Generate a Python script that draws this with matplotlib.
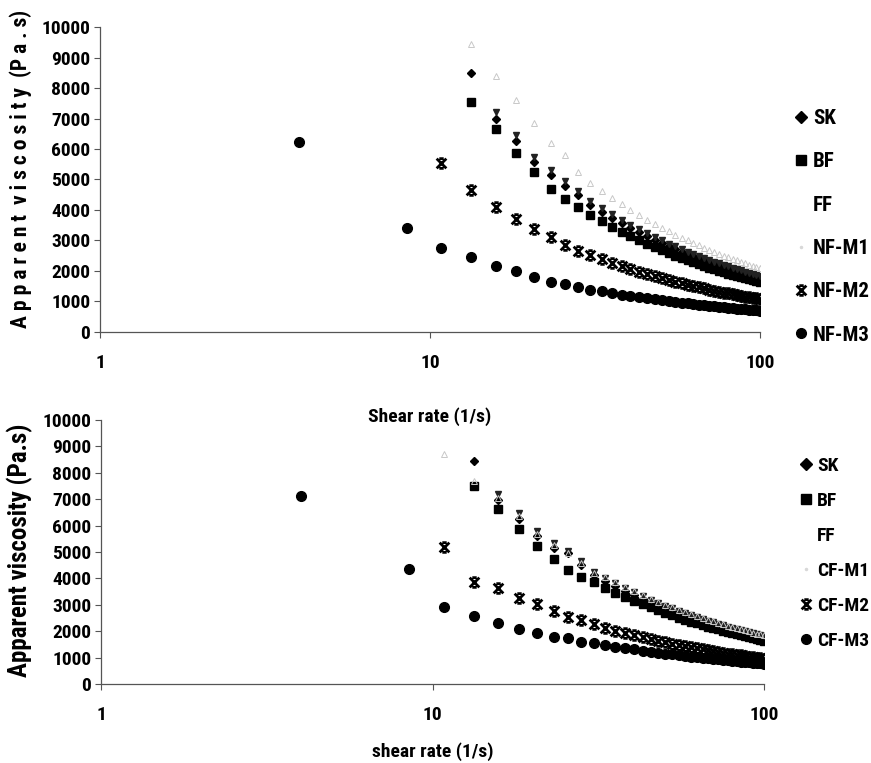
import numpy as np
import matplotlib
matplotlib.use('Agg')
import matplotlib.pyplot as plt
from matplotlib import font_manager as fm
from matplotlib.lines import Line2D
from matplotlib.path import Path
from matplotlib.ticker import FixedLocator, NullLocator, FixedFormatter

nan = np.nan

# shear rate grid (1/s)
rate = [4.0, 8.5, 10.8, 13.3, 15.8, 18.2, 20.7, 23.2, 25.7, 28.1, 30.6,
        33.1, 35.6, 38.1, 40.5, 43.0, 45.5, 48.0, 50.4, 52.9, 55.4, 57.9,
        60.4, 62.8, 65.3, 67.8, 70.3, 72.7, 75.2, 77.7, 80.2, 82.7, 85.1,
        87.6, 90.1, 92.6, 95.0, 97.5, 100.0]

# ---- top panel (NF) apparent viscosity, Pa.s ----
top_sk = [nan, nan, nan, 8500, 7000, 6270, 5580, 5140, 4800, 4480, 4170,
          3942, 3740, 3562, 3409, 3265, 3135, 3017, 2912, 2812, 2720, 2635,
          2556, 2485, 2416, 2352, 2291, 2237, 2183, 2133, 2085, 2039, 1997,
          1956, 1917, 1879, 1845, 1811, 1778]
top_bf = [nan, nan, nan, 7530, 6666, 5858, 5236, 4689, 4361, 4108, 3836,
          3625, 3440, 3276, 3135, 3003, 2883, 2774, 2678, 2587, 2502, 2424,
          2351, 2286, 2223, 2163, 2108, 2057, 2008, 1961, 1917, 1875, 1837,
          1799, 1763, 1728, 1697, 1666, 1635]
top_ff = [nan, nan, nan, nan, 7224, 6459, 5749, 5300, 4950, 4620, 4300,
          4064, 3856, 3672, 3514, 3366, 3232, 3110, 3002, 2899, 2804, 2717,
          2635, 2562, 2491, 2425, 2362, 2306, 2251, 2199, 2149, 2102, 2059,
          2016, 1976, 1937, 1902, 1867, 1833]
top_m1 = [nan, nan, nan, 9440, 8400, 7600, 6840, 6200, 5800, 5260, 4900,
          4631, 4394, 4185, 4005, 3836, 3683, 3544, 3421, 3304, 3196, 3096,
          3003, 2920, 2839, 2763, 2692, 2628, 2565, 2505, 2449, 2395, 2346,
          2298, 2252, 2207, 2167, 2128, 2088]
top_m2 = [nan, nan, 5530, 4656, 4110, 3694, 3377, 3104, 2842, 2656, 2530,
          2391, 2269, 2161, 2068, 1981, 1902, 1830, 1766, 1706, 1650, 1598,
          1550, 1508, 1466, 1427, 1390, 1357, 1324, 1294, 1264, 1237, 1211,
          1186, 1163, 1140, 1119, 1099, 1078]
top_m3 = [6230, 3400, 2760, 2460, 2170, 2000, 1810, 1640, 1580, 1475, 1390,
          1328, 1273, 1224, 1181, 1141, 1104, 1071, 1041, 1012, 985, 960,
          937, 916, 895, 876, 858, 841, 825, 810, 795, 781, 768,
          755, 743, 731, 721, 710, 700]

# ---- bottom panel (CF) ----
bot_sk = [nan, nan, nan, 8447, 6970, 6270, 5620, 5170, 4950, 4510, 4120,
          3896, 3697, 3521, 3370, 3227, 3098, 2982, 2878, 2780, 2689, 2604,
          2526, 2457, 2388, 2325, 2265, 2211, 2158, 2108, 2060, 2015, 1974,
          1933, 1894, 1858, 1824, 1790, 1757]
bot_bf = [nan, nan, nan, 7500, 6629, 5871, 5239, 4735, 4318, 4040, 3860,
          3648, 3461, 3296, 3155, 3022, 2901, 2792, 2695, 2603, 2518, 2439,
          2365, 2300, 2237, 2177, 2121, 2070, 2021, 1974, 1929, 1887, 1848,
          1810, 1774, 1739, 1707, 1676, 1645]
bot_ff = [nan, nan, nan, nan, 7186, 6466, 5795, 5330, 5050, 4650, 4250,
          4017, 3811, 3630, 3474, 3327, 3194, 3074, 2967, 2866, 2772, 2685,
          2604, 2533, 2462, 2397, 2335, 2279, 2225, 2173, 2124, 2077, 2035,
          1993, 1953, 1915, 1880, 1845, 1811]
bot_m1 = [nan, nan, 8700, 7700, 7050, 6350, 5700, 5250, 4980, 4600, 4200,
          4050, 3850, 3670, 3510, 3360, 3230, 3110, 3000, 2900, 2810, 2720,
          2640, 2570, 2500, 2430, 2370, 2310, 2260, 2210, 2160, 2110, 2070,
          2030, 1990, 1950, 1910, 1880, 1850]
bot_m2 = [nan, nan, 5200, 3875, 3648, 3246, 3019, 2777, 2549, 2424, 2260,
          2136, 2027, 1930, 1847, 1769, 1699, 1634, 1578, 1524, 1474, 1428,
          1385, 1347, 1309, 1274, 1242, 1212, 1183, 1156, 1129, 1105, 1082,
          1060, 1038, 1018, 1000, 981, 963]
bot_m3 = [7133, 4356, 2905, 2587, 2299, 2095, 1920, 1792, 1731, 1602, 1541,
          1472, 1412, 1357, 1310, 1265, 1224, 1187, 1154, 1122, 1092, 1064,
          1039, 1016, 992, 971, 951, 933, 915, 898, 881, 866, 851,
          837, 824, 811, 799, 787, 776]

top_labels = ['SK', 'BF', 'FF', 'NF-M1', 'NF-M2', 'NF-M3']
bot_labels = ['SK', 'BF', 'FF', 'CF-M1', 'CF-M2', 'CF-M3']

# look for a narrow / condensed face (the original uses Arial Narrow)
FONT = ['Liberation Sans', 'DejaVu Sans']
STRETCH = 'normal'
have = fm.fontManager.ttflist
for want in ['Liberation Sans Narrow', 'Arial Narrow', 'Roboto Condensed',
             'Open Sans Condensed', 'Noto Sans Display']:
    if any(f.name == want for f in have):
        FONT = [want, 'DejaVu Sans']
        break
else:
    if any(f.name == 'DejaVu Sans' and f.stretch == 'condensed' for f in have):
        FONT = ['DejaVu Sans']
        STRETCH = 'condensed'

plt.rcParams['font.family'] = FONT
plt.rcParams['font.stretch'] = STRETCH
plt.rcParams['font.weight'] = 'bold'

# Excel-like "star" as it looks in the scan: an X capped top and bottom
star = Path([(-1, -1), (1, 1), (-1, 1), (1, -1),
             (-0.45, 1), (0.45, 1), (-0.45, -1), (0.45, -1)],
            [Path.MOVETO, Path.LINETO, Path.MOVETO, Path.LINETO,
             Path.MOVETO, Path.LINETO, Path.MOVETO, Path.LINETO])

styles = [
    dict(marker='D', ms=4.5, mfc='black', mec='black'),
    dict(marker='s', ms=6, mfc='black', mec='black'),
    dict(marker='v', ms=5, mfc='#222222', mec='#222222'),
    dict(marker='^', ms=4, mfc='none', mec='#c8c8c8', mew=0.7),
    dict(marker=star, ms=7, mfc='none', mec='black', mew=2.0),
    dict(marker='o', ms=7, mfc='black', mec='black'),
]
legend_styles = [
    dict(marker='D', ms=6, mfc='black', mec='black'),
    dict(marker='s', ms=6.5, mfc='black', mec='black'),
    dict(marker='v', ms=5, mfc='white', mec='white'),
    dict(marker='.', ms=3, mfc='#d8d8d8', mec='#d8d8d8'),
    dict(marker=star, ms=7, mfc='none', mec='black', mew=2.0),
    dict(marker='o', ms=7, mfc='black', mec='black'),
]

fig = plt.figure(figsize=(8.71, 7.63), dpi=100)
ax1 = fig.add_axes([0.1148, 0.5649, 0.7577, 0.3997])
ax2 = fig.add_axes([0.1160, 0.1035, 0.7612, 0.3460])
ax2.patch.set_visible(False)


def draw_panel(ax, series, labels, xlabel, ylabel, xlabelpad, ysize, ylab_y,
               legend_xy, legend_size, spacing):
    for vals, st in zip(series, styles):
        ax.plot(rate, vals, ls='none', **st)
    ax.set_xscale('log')
    ax.set_xlim(1, 100)
    ax.set_ylim(0, 10000)
    ax.xaxis.set_major_locator(FixedLocator([1, 10, 100]))
    ax.xaxis.set_major_formatter(FixedFormatter(['1', '10', '100']))
    ax.xaxis.set_minor_locator(NullLocator())
    ax.set_yticks(np.arange(0, 10001, 1000))
    for s in ['top', 'right']:
        ax.spines[s].set_visible(False)
    for s in ['left', 'bottom']:
        ax.spines[s].set_color('#555555')
        ax.spines[s].set_linewidth(0.9)
    ax.tick_params(axis='y', direction='out', length=4, width=0.8, color='#555555',
                   labelsize=14, pad=3)
    ax.tick_params(axis='x', direction='out', length=4, width=0.8, color='#555555',
                   labelsize=14, pad=12)
    for t in ax.get_xticklabels() + ax.get_yticklabels():
        t.set_fontweight('bold')
    ax.set_xlabel(xlabel, fontsize=14, fontweight='bold', labelpad=xlabelpad)
    ax.set_ylabel(ylabel, fontsize=ysize, fontweight='bold')
    ax.yaxis.set_label_coords(-0.103, ylab_y)

    handles = [Line2D([], [], ls='none', **st) for st in legend_styles]
    fig.legend(handles, labels, loc='upper left', bbox_to_anchor=legend_xy,
               bbox_transform=fig.transFigure, frameon=False, handlelength=0.6,
               handletextpad=0.3, labelspacing=spacing, borderpad=0,
               prop=dict(family=FONT, weight='bold', size=legend_size, stretch=STRETCH))


draw_panel(ax1, [top_sk, top_bf, top_ff, top_m1, top_m2, top_m3], top_labels,
           'Shear rate (1/s)', 'A p p a r e n t  v i s c o s i t y  (P a . s)', 25, 15.5, 0.534,
           (0.9002, 0.8708), 15, 1.167)
draw_panel(ax2, [bot_sk, bot_bf, bot_ff, bot_m1, bot_m2, bot_m3], bot_labels,
           'shear rate (1/s)', 'Apparent viscosity (Pa.s)', 13, 18, 0.508,
           (0.9070, 0.4134), 14, 0.87)

fig.savefig('out.png', dpi=100, facecolor='white')
